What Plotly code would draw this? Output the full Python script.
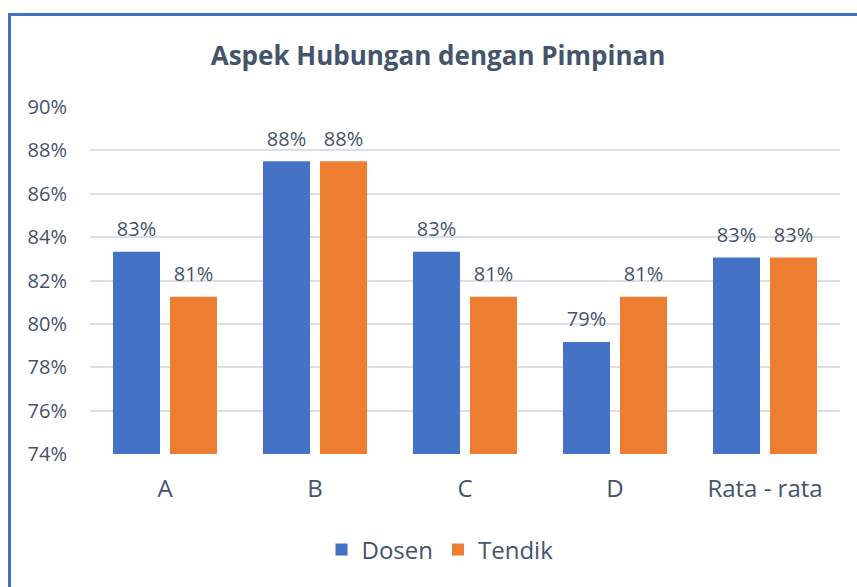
import plotly.graph_objects as go

categories = ["A", "B", "C", "D", "Rata - rata"]
dosen = [83.33, 87.5, 83.33, 79.17, 83.06]
tendik = [81.25, 87.5, 81.25, 81.25, 83.06]
y_ticks = [74, 76, 78, 80, 82, 84, 86, 88, 90]
y_tick_labels = ["74%", "76%", "78%", "80%", "82%", "84%", "86%", "88%", "90%"]

W, H = 857, 587
L, R, T, B = 90, 17, 107, 133
pw, ph = W - L - R, H - T - B

txt = "#44546A"
font_family = "Open Sans, Liberation Sans, sans-serif"
label_tpl = "<span style='font-size:20px'>%{y:.0f}%</span><br> "

fig = go.Figure()
fig.add_trace(go.Bar(
    x=categories, y=dosen, name="Dosen",
    marker=dict(color="#4472C4", line=dict(width=0)),
    texttemplate=label_tpl, textposition="outside",
    textfont=dict(size=8, color=txt), cliponaxis=False,
))
fig.add_trace(go.Bar(
    x=categories, y=tendik, name="Tendik",
    marker=dict(color="#ED7D31", line=dict(width=0)),
    texttemplate=label_tpl, textposition="outside",
    textfont=dict(size=8, color=txt), cliponaxis=False,
))

def px(x):
    return (x - L) / pw

def py(y):
    return 1 - (y - T) / ph

fig.update_layout(
    width=W, height=H,
    margin=dict(l=L, r=R, t=T, b=B, pad=0),
    paper_bgcolor="white", plot_bgcolor="white",
    barmode="group", bargap=0.24, bargroupgap=0.175,
    font=dict(family=font_family, color=txt, size=20),
    title=dict(text="<b>Aspek Hubungan dengan Pimpinan</b>",
               xref="container", x=438 / W, xanchor="center",
               yref="container", y=1 - 56 / H, yanchor="middle",
               font=dict(size=26, color=txt)),
    xaxis=dict(showgrid=False, showline=False, ticks="",
               tickfont=dict(size=24, color=txt), ticklabelstandoff=18),
    yaxis=dict(range=[74, 90], tickmode="array", tickvals=y_ticks,
               ticktext=y_tick_labels,
               showgrid=True, gridcolor="#DCDFE4", gridwidth=1.5,
               zeroline=False, showline=False, ticks="", ticklabelstandoff=22,
               tickfont=dict(size=20, color=txt)),
    legend=dict(orientation="h", x=px(440), xanchor="center",
                y=py(550), yanchor="middle",
                font=dict(size=24, color=txt),
                traceorder="normal"),
    showlegend=True,
    shapes=[dict(type="rect", xref="paper", yref="paper",
                 x0=px(9.5), x1=px(W + 20), y0=py(H + 20), y1=py(14.5),
                 line=dict(color="#4472C4", width=3), layer="below")],
)

fig.write_html("out.html", config={"displayModeBar": False})
with open("out.html", "r", encoding="utf-8") as f:
    html = f.read()
html = html.replace("<head>", "<head><style>html,body{margin:0;padding:0;overflow:hidden}</style>", 1)
with open("out.html", "w", encoding="utf-8") as f:
    f.write(html)
